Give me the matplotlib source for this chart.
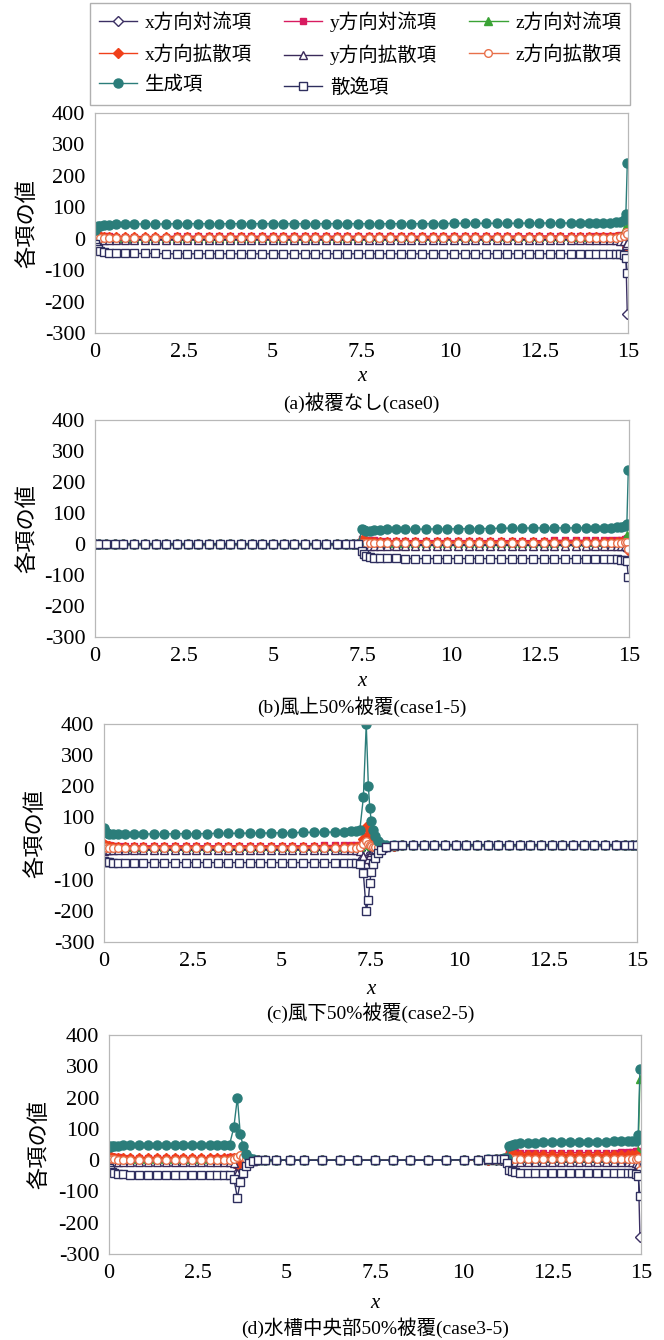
import matplotlib
matplotlib.use('Agg')
import matplotlib.pyplot as plt
from matplotlib.lines import Line2D

plt.rcParams['font.family'] = ['Liberation Serif', 'Noto Sans CJK JP']
plt.rcParams['axes.unicode_minus'] = False

W, H = 664, 1340

# ---- series names (legend order) ----
names = ['x方向対流項', 'y方向対流項', 'z方向対流項',
         'x方向拡散項', 'y方向拡散項', 'z方向拡散項',
         '生成項', '散逸項']
keys = ['xc', 'yc', 'zc', 'xd', 'yd', 'zd', 'G', 'D']

# ---- (a) case0 ----
xa = [0.0, 0.03, 0.08, 0.15, 0.25, 0.4, 0.6, 0.85, 1.1, 1.4,
      1.7, 2.0, 2.3, 2.6, 2.9, 3.2, 3.5, 3.8, 4.1, 4.4,
      4.7, 5.0, 5.3, 5.6, 5.9, 6.2, 6.5, 6.8, 7.1, 7.4,
      7.7, 8.0, 8.3, 8.6, 8.9, 9.2, 9.5, 9.8, 10.1, 10.4,
      10.7, 11.0, 11.3, 11.6, 11.9, 12.2, 12.5, 12.8, 13.1, 13.4,
      13.65, 13.9, 14.1, 14.3, 14.5, 14.65, 14.78, 14.88, 14.94, 14.98]
a_xc = [4, 3, 2, 1, 0, 0, 0, 0, 0, 0,
        0, 0, 0, 0, 0, 0, 0, 0, 0, 0,
        0, 0, 0, 0, 0, 0, 0, 0, 0, 0,
        0, 0, 0, 0, 0, 0, 0, 0, 0, 0,
        0, 0, 0, 0, 0, 0, 0, 0, 0, 0,
        0, 0, 0, 0, -1, -2, -4, -10, -50, -240]
a_yc = [14, 12, 10, 9, 8, 8, 7, 7, 7, 7,
        7, 7, 8, 8, 8, 8, 8, 8, 8, 8,
        8, 8, 8, 8, 8, 8, 8, 8, 8, 8,
        8, 8, 8, 8, 8, 8, 8, 8, 8, 8,
        8, 8, 8, 8, 9, 9, 9, 9, 9, 9,
        9, 9, 9, 10, 10, 10, 11, 13, 20, 15]
a_zc = [8, 6, 5, 4, 4, 3, 3, 3, 3, 3,
        3, 3, 3, 3, 3, 3, 3, 3, 3, 3,
        3, 3, 3, 3, 3, 3, 3, 3, 3, 3,
        4, 4, 4, 4, 4, 4, 4, 4, 4, 4,
        4, 4, 4, 4, 4, 4, 4, 4, 4, 4,
        4, 4, 4, 5, 5, 6, 10, 25, 70, 40]
a_xd = [15, 12, 10, 8, 7, 6, 5, 5, 5, 5,
        5, 5, 5, 5, 5, 5, 5, 5, 5, 5,
        5, 5, 5, 5, 5, 5, 5, 5, 5, 5,
        5, 5, 5, 5, 5, 5, 5, 5, 5, 5,
        5, 5, 5, 5, 5, 5, 5, 5, 5, 5,
        5, 5, 5, 6, 6, 6, 5, 0, -15, -25]
a_yd = [-10, -8, -6, -5, -5, -4, -4, -4, -4, -4,
        -4, -4, -4, -4, -4, -4, -4, -4, -4, -4,
        -4, -4, -4, -4, -4, -4, -4, -4, -4, -4,
        -4, -4, -4, -4, -4, -4, -4, -4, -4, -4,
        -4, -4, -4, -4, -4, -4, -4, -4, -4, -4,
        -4, -4, -4, -4, -4, -5, -6, -8, -20, -15]
a_zd = [5, 4, 3, 3, 2, 2, 2, 2, 2, 2,
        2, 2, 2, 2, 2, 2, 2, 2, 2, 2,
        2, 2, 2, 2, 2, 2, 2, 2, 2, 2,
        2, 2, 2, 2, 2, 2, 2, 2, 2, 2,
        2, 2, 2, 2, 2, 2, 2, 2, 2, 2,
        2, 2, 2, 3, 3, 3, 5, 10, 20, 15]
a_G = [28, 34, 39, 42, 44, 45, 46, 47, 47, 47,
       47, 47, 48, 48, 48, 48, 48, 48, 48, 48,
       48, 48, 48, 48, 48, 48, 48, 48, 48, 48,
       48, 48, 48, 48, 48, 48, 48, 48, 49, 49,
       49, 49, 49, 49, 49, 50, 50, 50, 50, 50,
       50, 50, 51, 51, 51, 52, 53, 58, 78, 240]
a_D = [-18, -26, -33, -38, -42, -44, -45, -46, -47, -47,
       -47, -48, -48, -48, -48, -48, -48, -48, -48, -48,
       -48, -48, -48, -48, -48, -48, -48, -48, -48, -48,
       -48, -48, -48, -48, -48, -48, -48, -48, -48, -48,
       -48, -48, -48, -48, -48, -48, -48, -48, -48, -48,
       -48, -48, -48, -48, -48, -49, -49, -52, -60, -110]

# ---- (b) case1-5 ----
xb = [0.0, 0.1, 0.3, 0.55, 0.8, 1.1, 1.4, 1.7, 2.0, 2.3,
      2.6, 2.9, 3.2, 3.5, 3.8, 4.1, 4.4, 4.7, 5.0, 5.3,
      5.6, 5.9, 6.2, 6.5, 6.8, 7.05, 7.25, 7.4,
      7.5, 7.55, 7.62, 7.72, 7.85, 8.0, 8.2, 8.45, 8.7, 9.0,
      9.3, 9.6, 9.9, 10.2, 10.5, 10.8, 11.1, 11.4, 11.7, 12.0,
      12.3, 12.6, 12.9, 13.2, 13.5, 13.8, 14.05, 14.3, 14.5, 14.65,
      14.78, 14.88, 14.94, 14.98]
b_cover = [0, 0, 0, 0, 0, 0, 0, 0, 0, 0,
           0, 0, 0, 0, 0, 0, 0, 0, 0, 0,
           0, 0, 0, 0, 0, 0, 0, 0]
b_xc = b_cover + [2, 1, 1, 0, 0, 0, 0, 0, 0, 0,
                  0, 0, 0, 0, 0, 0, 0, 0, 0, 0,
                  0, 0, 0, 0, 0, 0, 0, 0, 0, 0,
                  0, -2, -8, -2]
b_yc = b_cover + [16, 14, 13, 12, 12, 11, 11, 11, 11, 11,
                  11, 11, 11, 11, 11, 11, 11, 11, 11, 11,
                  11, 11, 12, 12, 12, 12, 12, 12, 13, 13,
                  14, 16, 20, 10]
b_zc = b_cover + [8, 6, 5, 5, 4, 4, 4, 4, 4, 4,
                  4, 4, 4, 4, 4, 4, 4, 4, 4, 4,
                  4, 4, 4, 5, 5, 5, 5, 5, 6, 6,
                  8, 15, 30, 20]
b_xd = b_cover + [12, 10, 9, 8, 8, 7, 7, 7, 7, 7,
                  7, 7, 7, 7, 7, 7, 7, 7, 7, 7,
                  7, 7, 7, 7, 7, 7, 7, 7, 7, 6,
                  5, 0, -10, -20]
b_yd = b_cover + [-8, -7, -6, -5, -5, -5, -5, -5, -5, -5,
                  -5, -5, -5, -5, -5, -5, -5, -5, -5, -5,
                  -5, -5, -5, -5, -5, -5, -5, -5, -5, -5,
                  -5, -6, -10, -5]
b_zd = b_cover + [4, 3, 3, 2, 2, 2, 2, 2, 2, 2,
                  2, 2, 2, 2, 2, 2, 2, 2, 2, 2,
                  2, 2, 2, 2, 2, 2, 2, 2, 2, 2,
                  3, 5, 8, -15]
b_G = b_cover + [50, 45, 42, 43, 45, 46, 47, 47, 48, 48,
                 48, 49, 49, 49, 50, 50, 50, 51, 51, 51,
                 52, 52, 52, 52, 52, 53, 53, 53, 53, 54,
                 55, 58, 65, 240]
b_D = b_cover + [-22, -32, -38, -42, -44, -45, -46, -46, -47, -47,
                 -47, -47, -47, -47, -47, -47, -47, -47, -47, -47,
                 -47, -47, -47, -47, -47, -47, -47, -47, -47, -48,
                 -50, -52, -56, -105]

# ---- (c) case2-5 ----
xc_ = [0.0, 0.03, 0.08, 0.15, 0.25, 0.4, 0.6, 0.85, 1.1, 1.4,
       1.7, 2.0, 2.3, 2.6, 2.9, 3.2, 3.5, 3.8, 4.1, 4.4,
       4.7, 5.0, 5.3, 5.6, 5.9, 6.2, 6.5, 6.75, 6.95, 7.1,
       7.2, 7.3, 7.38, 7.44, 7.48,
       7.52, 7.56, 7.62, 7.7, 7.8, 7.95, 8.15, 8.4, 8.7, 9.0,
       9.3, 9.6, 9.9, 10.2, 10.5, 10.8, 11.1, 11.4, 11.7, 12.0,
       12.3, 12.6, 12.9, 13.2, 13.5, 13.8, 14.1, 14.4, 14.65, 14.85,
       15.0]
c_xc = [5, 3, 2, 1, 0, 0, 0, 0, 0, 0,
        0, 0, 0, 0, 0, 0, 0, 0, 0, 0,
        0, 0, 0, 0, 0, 0, 0, 0, 0, 0,
        -5, -30, -60, -40, -25,
        -15, -8, -4, 0, 3, 6, 9, 10, 10, 10,
        10, 10, 10, 10, 10, 10, 10, 10, 10, 10,
        10, 10, 10, 10, 10, 10, 10, 10, 10, 10,
        10]
c_yc = [15, 12, 10, 10, 9, 9, 9, 9, 9, 9,
        9, 9, 9, 9, 9, 9, 9, 9, 9, 9,
        9, 9, 9, 9, 9, 10, 10, 10, 10, 10,
        12, 20, 40, 25, 15,
        10, 8, 6, 5, 5, 7, 9, 10, 10, 10,
        10, 10, 10, 10, 10, 10, 10, 10, 10, 10,
        10, 10, 10, 10, 10, 10, 10, 10, 10, 10,
        10]
c_zc = [8, 6, 5, 5, 4, 4, 4, 4, 4, 4,
        4, 4, 4, 4, 4, 4, 4, 4, 4, 4,
        4, 4, 4, 4, 4, 4, 4, 4, 4, 4,
        5, 15, 30, 20, 10,
        8, 6, 5, 5, 5, 7, 9, 10, 10, 10,
        10, 10, 10, 10, 10, 10, 10, 10, 10, 10,
        10, 10, 10, 10, 10, 10, 10, 10, 10, 10,
        10]
c_xd = [15, 10, 8, 7, 6, 6, 6, 6, 6, 6,
        6, 6, 6, 6, 6, 6, 6, 6, 6, 6,
        6, 6, 6, 6, 6, 6, 6, 6, 6, 6,
        8, 30, 70, 40, 20,
        12, 8, 5, 4, 5, 7, 9, 10, 10, 10,
        10, 10, 10, 10, 10, 10, 10, 10, 10, 10,
        10, 10, 10, 10, 10, 10, 10, 10, 10, 10,
        10]
c_yd = [-8, -6, -5, -5, -5, -5, -5, -5, -5, -5,
        -5, -5, -5, -5, -5, -5, -5, -5, -5, -5,
        -5, -5, -5, -5, -5, -5, -5, -5, -5, -5,
        -8, -25, -50, -35, -20,
        -12, -6, -2, 0, 3, 6, 9, 10, 10, 10,
        10, 10, 10, 10, 10, 10, 10, 10, 10, 10,
        10, 10, 10, 10, 10, 10, 10, 10, 10, 10,
        10]
c_zd = [5, 4, 3, 3, 2, 2, 2, 2, 2, 2,
        2, 2, 2, 2, 2, 2, 2, 2, 2, 2,
        2, 2, 2, 2, 2, 2, 2, 2, 2, 2,
        5, 15, 25, 15, 10,
        8, 6, 5, 5, 5, 7, 9, 10, 10, 10,
        10, 10, 10, 10, 10, 10, 10, 10, 10, 10,
        10, 10, 10, 10, 10, 10, 10, 10, 10, 10,
        10]
c_G = [65, 55, 50, 48, 47, 47, 47, 47, 47, 47,
       47, 48, 48, 48, 48, 49, 49, 49, 50, 50,
       50, 51, 51, 52, 52, 53, 53, 54, 55, 55,
       60, 165, 400, 200, 130,
       90, 60, 40, 25, 15, 12, 12, 12, 12, 12,
       12, 12, 12, 12, 12, 12, 12, 12, 12, 12,
       12, 12, 12, 12, 12, 12, 12, 12, 12, 12,
       12]
c_D = [-40, -42, -43, -44, -45, -45, -45, -45, -45, -45,
       -45, -45, -45, -45, -45, -45, -45, -45, -45, -45,
       -45, -45, -45, -45, -45, -45, -45, -45, -46, -46,
       -48, -80, -200, -165, -110,
       -75, -50, -30, -15, -5, 5, 10, 12, 12, 12,
       12, 12, 12, 12, 12, 12, 12, 12, 12, 12,
       12, 12, 12, 12, 12, 12, 12, 12, 12, 12,
       12]

# ---- (d) case3-5 ----
xd_ = [0.0, 0.03, 0.08, 0.15, 0.25, 0.4, 0.6, 0.85, 1.1, 1.35,
       1.6, 1.85, 2.1, 2.35, 2.6, 2.85, 3.05, 3.25, 3.4, 3.52,
       3.62, 3.7,
       3.78, 3.86, 3.95, 4.05, 4.2, 4.4, 4.7, 5.1, 5.5, 6.0,
       6.5, 7.0, 7.5, 8.0, 8.5, 9.0, 9.5, 10.0, 10.4, 10.7,
       10.9, 11.05, 11.15, 11.22,
       11.28, 11.35, 11.45, 11.6, 11.8, 12.0, 12.25, 12.5, 12.75, 13.0,
       13.25, 13.5, 13.75, 14.0, 14.25, 14.45, 14.62, 14.75, 14.85, 14.92,
       14.97]
d_xc = [5, 3, 2, 1, 0, 0, 0, 0, 0, 0,
        0, 0, 0, 0, 0, 0, 0, 0, -2, -10,
        -40, -50,
        -25, -10, -4, -1, 0, 0, 0, 0, 0, 0,
        0, 0, 0, 0, 0, 0, 0, 0, 0, 0,
        0, 0, 0, 0,
        2, 1, 0, 0, 0, 0, 0, 0, 0, 0,
        0, 0, 0, 0, 0, 0, 0, 0, -2, -10,
        -245]
d_yc = [14, 12, 10, 9, 9, 8, 8, 8, 8, 8,
        8, 8, 8, 8, 8, 8, 8, 8, 9, 10,
        5, 0,
        5, 3, 1, 0, 0, 0, 0, 0, 0, 0,
        0, 0, 0, 0, 0, 0, 0, 0, 1, 2,
        3, 5, 6, 8,
        28, 26, 25, 24, 24, 24, 24, 24, 24, 24,
        24, 24, 24, 24, 24, 25, 25, 26, 28, 30,
        20]
d_zc = [8, 6, 5, 4, 4, 4, 4, 4, 4, 4,
        4, 4, 4, 4, 4, 4, 4, 4, 4, 5,
        10, 5,
        3, 2, 1, 0, 0, 0, 0, 0, 0, 0,
        0, 0, 0, 0, 0, 0, 0, 0, 1, 1,
        2, 3, 4, 5,
        10, 9, 8, 8, 8, 8, 8, 8, 8, 8,
        8, 8, 8, 8, 8, 8, 9, 9, 10, 30,
        260]
d_xd = [15, 10, 8, 7, 6, 6, 6, 6, 6, 6,
        6, 6, 6, 6, 6, 6, 6, 6, 6, 7,
        -15, -10,
        5, 8, 5, 2, 0, 0, 0, 0, 0, 0,
        0, 0, 0, 0, 0, 0, 0, 0, 1, 2,
        3, 4, 5, 5,
        20, 18, 17, 16, 16, 16, 16, 16, 16, 16,
        16, 16, 16, 16, 16, 16, 16, 16, 15, 10,
        -35]
d_yd = [-8, -6, -5, -5, -5, -5, -5, -5, -5, -5,
        -5, -5, -5, -5, -5, -5, -5, -5, -6, -10,
        -40, -55,
        -30, -12, -5, -2, 0, 0, 0, 0, 0, 0,
        0, 0, 0, 0, 0, 0, 0, 0, 0, 0,
        0, 0, 0, 0,
        -10, -8, -7, -6, -6, -6, -6, -6, -6, -6,
        -6, -6, -6, -6, -6, -6, -6, -6, -8, -12,
        -30]
d_zd = [5, 4, 3, 3, 2, 2, 2, 2, 2, 2,
        2, 2, 2, 2, 2, 2, 2, 2, 2, 3,
        10, 15,
        10, 5, 2, 1, 0, 0, 0, 0, 0, 0,
        0, 0, 0, 0, 0, 0, 0, 0, 1, 1,
        2, 2, 3, 4,
        6, 5, 4, 4, 4, 4, 4, 4, 4, 4,
        4, 4, 4, 4, 4, 4, 4, 4, 5, 8,
        -30]
d_G = [45, 42, 44, 45, 46, 47, 47, 48, 48, 48,
       48, 48, 48, 48, 48, 48, 49, 49, 50, 105,
       200, 85,
       45, 20, 8, 3, 1, 0, 0, 0, 0, 0,
       0, 0, 0, 0, 0, 0, 0, 1, 2, 3,
       4, 5, 6, 8,
       45, 50, 52, 54, 55, 56, 57, 57, 58, 58,
       58, 59, 59, 59, 60, 60, 60, 61, 62, 80,
       290]
d_D = [-25, -32, -38, -42, -44, -45, -46, -47, -47, -47,
       -47, -47, -47, -47, -47, -47, -47, -47, -48, -60,
       -120, -70,
       -40, -20, -8, -3, -1, 0, 0, 0, 0, 0,
       0, 0, 0, 0, 0, 0, 0, 1, 2, 3,
       4, 4, 3, -10,
       -30, -35, -38, -40, -41, -42, -42, -42, -42, -42,
       -42, -42, -42, -42, -42, -42, -42, -42, -45, -50,
       -115]

captions = ['(a)被覆なし(case0)', '(b)風上50%被覆(case1-5)',
            '(c)風下50%被覆(case2-5)', '(d)水槽中央部50%被覆(case3-5)']
xticks = [0, 2.5, 5, 7.5, 10, 12.5, 15]
xticklabels = ['0', '2.5', '5', '7.5', '10', '12.5', '15']
yticks = [-300, -200, -100, 0, 100, 200, 300, 400]

panels = [
    (xa, dict(xc=a_xc, yc=a_yc, zc=a_zc, xd=a_xd, yd=a_yd, zd=a_zd, G=a_G, D=a_D)),
    (xb, dict(xc=b_xc, yc=b_yc, zc=b_zc, xd=b_xd, yd=b_yd, zd=b_zd, G=b_G, D=b_D)),
    (xc_, dict(xc=c_xc, yc=c_yc, zc=c_zc, xd=c_xd, yd=c_yd, zd=c_zd, G=c_G, D=c_D)),
    (xd_, dict(xc=d_xc, yc=d_yc, zc=d_zc, xd=d_xd, yd=d_yd, zd=d_zd, G=d_G, D=d_D)),
]

# axes boxes in pixels: left, top, right, bottom
boxes = [(95, 113, 628, 333), (95, 420, 629, 637),
         (104, 724, 637, 942), (109, 1035, 641, 1254)]
# y of x label and caption; x of y label
text_y = [(377, 403), (682, 707), (990, 1013), (1303, 1328)]
ylab_x = [28, 28, 36, 40]

styles = {
    'xc': dict(color='#3b2f63', marker='D', ms=5, mfc='white'),
    'yc': dict(color='#d81b60', marker='s', ms=5),
    'zc': dict(color='#3aa335', marker='^', ms=6),
    'xd': dict(color='#f0401a', marker='D', ms=5),
    'yd': dict(color='#3a2a5a', marker='^', ms=6, mfc='white'),
    'zd': dict(color='#e8704a', marker='o', ms=5.5, mfc='white'),
    'G': dict(color='#2b7d7a', marker='o', ms=6.5),
    'D': dict(color='#2e2e5e', marker='s', ms=5.5, mfc='white'),
}

fig = plt.figure(figsize=(W / 100, H / 100), dpi=100)

for i, (x, ser) in enumerate(panels):
    l, t, r, b = boxes[i]
    ax = fig.add_axes([l / W, 1 - b / H, (r - l) / W, (b - t) / H])
    for k in keys:
        ax.plot(x, ser[k], lw=1.0, mew=1.0, **styles[k])
    ax.set_xlim(0, 15)
    ax.set_ylim(-300, 400)
    ax.set_xticks(xticks)
    ax.set_xticklabels(xticklabels)
    ax.set_yticks(yticks)
    ax.tick_params(length=0, labelsize=16, pad=7)
    for s in ax.spines.values():
        s.set_color('#b8b8b8')
        s.set_linewidth(0.9)
    cx = (l + r) / 2 / W
    fig.text(cx, 1 - text_y[i][0] / H, 'x', style='italic', fontsize=15,
             ha='center', va='center')
    fig.text(cx, 1 - text_y[i][1] / H, captions[i], fontsize=14,
             ha='center', va='center')
    fig.text(ylab_x[i] / W, 1 - (t + b) / 2 / H, '各項の値', fontsize=16,
             rotation=90, ha='center', va='center')

handles = [Line2D([], [], lw=1.0, mew=1.0, **styles[k]) for k in keys]
order = [0, 3, 6, 1, 4, 7, 2, 5]
fig.legend([handles[j] for j in order], [names[j] for j in order],
           ncol=3, loc='upper center', bbox_to_anchor=(360 / W, 1 - 3 / H),
           borderaxespad=0, fontsize=14, frameon=True, fancybox=False,
           edgecolor='#b0b0b0', framealpha=1, handlelength=2.0,
           handletextpad=0.4, columnspacing=1.6, labelspacing=0.65,
           borderpad=0.45)

fig.savefig('out.png', dpi=100)
